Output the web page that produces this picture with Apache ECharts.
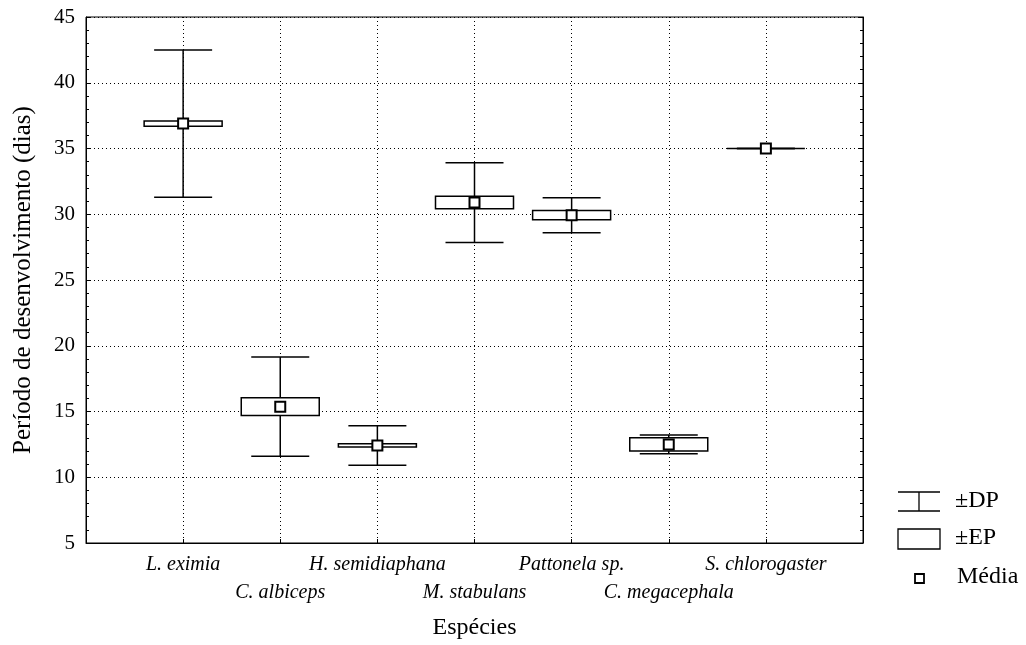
<!DOCTYPE html>
<html>
<head>
<meta charset="utf-8">
<script src="https://cdn.jsdelivr.net/npm/echarts@6/dist/echarts.min.js"></script>
<style>
html,body{margin:0;padding:0;background:#fff;}
#chart{width:1026px;height:645px;}
</style>
</head>
<body>
<div id="chart"></div>
<script>
// ---- data ----
const categories = ['L. eximia', 'C. albiceps', 'H. semidiaphana', 'M. stabulans', 'Pattonela sp.', 'C. megacephala', 'S. chlorogaster'];
const means  = [36.9, 15.37, 12.42, 30.89, 29.93, 12.5, 35.0];
const stdErr = [0.2, 0.68, 0.12, 0.47, 0.35, 0.5, 0.0];
const stdDev = [5.6, 3.77, 1.5, 3.03, 1.33, 0.72, 0.0];
const yMin = 5, yMax = 45, yStep = 5;
const legendLabels = ['±DP', '±EP', 'Média'];
const xTitle = 'Espécies';
const yTitle = 'Período de desenvolvimento (dias)';

const FONT = "'Liberation Serif', 'Times New Roman', serif";
const boxData = categories.map((c, i) => [i + 1, means[i], stdErr[i], stdDev[i]]);
const meanData = categories.map((c, i) => [i + 1, means[i]]);

const chart = echarts.init(document.getElementById('chart'), null, {renderer: 'canvas'});

function renderBox(params, api) {
  const x = api.value(0), m = api.value(1), se = api.value(2), sd = api.value(3);
  const sdHi = api.coord([x, m + sd]), sdLo = api.coord([x, m - sd]);
  const seHi = api.coord([x, m + se]), seLo = api.coord([x, m - se]);
  const cx = sdHi[0];
  const capW = 58, boxW = 78;
  const ls = {stroke: '#000', lineWidth: 1.5};
  return {
    type: 'group',
    children: [
      {type: 'line', shape: {x1: cx, y1: sdHi[1], x2: cx, y2: sdLo[1]}, style: ls},
      {type: 'line', shape: {x1: cx - capW / 2, y1: sdHi[1], x2: cx + capW / 2, y2: sdHi[1]}, style: ls},
      {type: 'line', shape: {x1: cx - capW / 2, y1: sdLo[1], x2: cx + capW / 2, y2: sdLo[1]}, style: ls},
      {type: 'rect', shape: {x: cx - boxW / 2, y: seHi[1], width: boxW, height: seLo[1] - seHi[1]},
       style: {fill: '#fff', stroke: '#000', lineWidth: 1.5}}
    ]
  };
}

const dotted = {type: [1, 3], color: '#000', width: 1};

const option = {
  animation: false,
  backgroundColor: '#fff',
  grid: {left: 86, right: 163, top: 17, bottom: 101, show: true, borderColor: '#000', borderWidth: 1},
  xAxis: {
    type: 'value', min: 0, max: categories.length + 1, interval: 1,
    axisLine: {show: true, onZero: false, lineStyle: {color: '#000', width: 1}},
    axisTick: {show: true, inside: true, length: 4, lineStyle: {color: '#000'}},
    axisLabel: {
      margin: 8, color: '#000', fontFamily: FONT, fontSize: 20, fontStyle: 'italic', lineHeight: 28,
      formatter: function (v) {
        const i = Math.round(v) - 1;
        if (i < 0 || i >= categories.length) return '';
        return (i % 2 === 1) ? '\n' + categories[i] : categories[i];
      }
    },
    splitLine: {show: true, lineStyle: dotted},
    name: xTitle, nameLocation: 'middle', nameGap: 73,
    nameTextStyle: {color: '#000', fontFamily: FONT, fontSize: 24}
  },
  yAxis: [{
    type: 'value', min: yMin, max: yMax, interval: yStep, position: 'left',
    axisLine: {show: true, lineStyle: {color: '#000', width: 1}},
    axisTick: {show: true, inside: true, length: 4, lineStyle: {color: '#000'}},
    minorTick: {show: true, splitNumber: 5, length: 3, lineStyle: {color: '#000'}},
    axisLabel: {margin: 11, color: '#000', fontFamily: FONT, fontSize: 21},
    splitLine: {show: true, lineStyle: dotted},
    name: yTitle, nameLocation: 'middle', nameGap: 50,
    nameTextStyle: {color: '#000', fontFamily: FONT, fontSize: 25}
  }, {
    type: 'value', min: yMin, max: yMax, interval: yStep, position: 'right',
    axisLine: {show: true, lineStyle: {color: '#000', width: 1}},
    axisTick: {show: true, inside: true, length: 4, lineStyle: {color: '#000'}},
    minorTick: {show: true, splitNumber: 5, length: 3, lineStyle: {color: '#000'}},
    axisLabel: {show: false},
    splitLine: {show: false}
  }],
  series: [{
    type: 'custom', name: legendLabels[1], renderItem: renderBox, data: boxData,
    encode: {x: 0, y: 1}, clip: false, z: 3
  }, {
    type: 'scatter', name: legendLabels[2], data: meanData, symbol: 'rect', symbolSize: 10,
    itemStyle: {color: '#fff', borderColor: '#000', borderWidth: 2, opacity: 1}, z: 5
  }],
  graphic: [
    {type: 'line', shape: {x1: 898, y1: 492, x2: 940, y2: 492}, style: {stroke: '#000', lineWidth: 1.3}},
    {type: 'line', shape: {x1: 898, y1: 511, x2: 940, y2: 511}, style: {stroke: '#000', lineWidth: 1.3}},
    {type: 'line', shape: {x1: 919, y1: 492, x2: 919, y2: 511}, style: {stroke: '#000', lineWidth: 1.3}},
    {type: 'text', left: 955, top: 489, style: {text: legendLabels[0], font: '24px ' + FONT, fill: '#000'}},
    {type: 'rect', shape: {x: 898, y: 529, width: 42, height: 20}, style: {fill: '#fff', stroke: '#000', lineWidth: 1.3}},
    {type: 'text', left: 955, top: 526, style: {text: legendLabels[1], font: '24px ' + FONT, fill: '#000'}},
    {type: 'rect', shape: {x: 915, y: 574, width: 9, height: 9}, style: {fill: '#fff', stroke: '#000', lineWidth: 1.8}},
    {type: 'text', left: 957, top: 565, style: {text: legendLabels[2], font: '24px ' + FONT, fill: '#000'}}
  ]
};
chart.setOption(option);
</script>
</body>
</html>
